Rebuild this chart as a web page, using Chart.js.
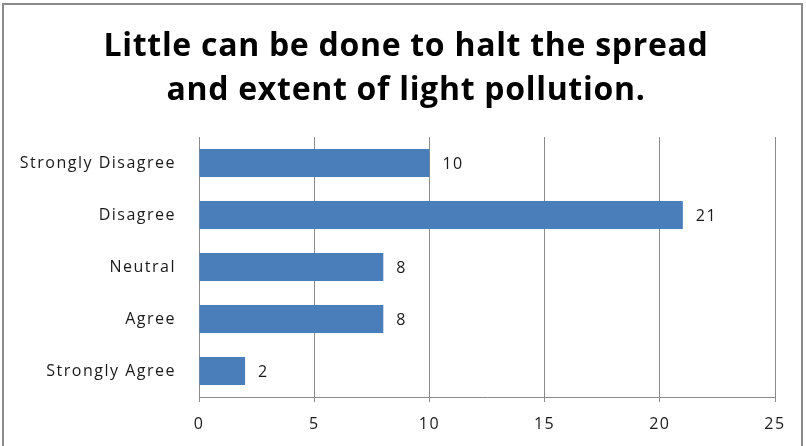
<!DOCTYPE html>
<html>
<head>
<meta charset="utf-8">
<script src="https://cdn.jsdelivr.net/npm/chart.js@4/dist/chart.umd.min.js"></script>
<style>
  html, body { margin: 0; padding: 0; background: #fff; }
  #wrap { width: 806px; height: 446px; }
</style>
</head>
<body>
<div id="wrap"><canvas id="grafico" width="806" height="446"></canvas></div>
<script>
// Respuestas de la encuesta
const categorias = ['Strongly Disagree', 'Disagree', 'Neutral', 'Agree', 'Strongly Agree'];
const respuestas = [10, 21, 8, 8, 2];
const ticksX = [0, 5, 10, 15, 20, 25];
const titulo = ['Little can be done to halt the spread', 'and extent of light pollution.'];

const fuente = '"Open Sans", Lato, sans-serif';

// Texto algo más espaciado en ejes y etiquetas
const espaciado = {
  id: 'espaciado',
  beforeDraw(chart) { chart.ctx.letterSpacing = '1.5px'; },
  afterDraw(chart) { chart.ctx.letterSpacing = '0px'; }
};

// Título en dos líneas y marco gris alrededor del gráfico
const tituloYMarco = {
  id: 'tituloYMarco',
  afterDraw(chart) {
    const ctx = chart.ctx;
    ctx.save();
    ctx.letterSpacing = '0.7px';
    ctx.font = 'bold 32px ' + fuente;
    ctx.fillStyle = '#000';
    ctx.textAlign = 'center';
    ctx.textBaseline = 'alphabetic';
    titulo.forEach((linea, i) => ctx.fillText(linea, 406, 56 + i * 44));
    ctx.strokeStyle = '#8a8a8a';
    ctx.lineWidth = 2;
    ctx.strokeRect(3, 4, 799, 460);
    ctx.restore();
  }
};

// Etiquetas con el valor a la derecha de cada barra
const etiquetas = {
  id: 'etiquetas',
  afterDatasetsDraw(chart) {
    const ctx = chart.ctx;
    const meta = chart.getDatasetMeta(0);
    ctx.save();
    ctx.font = '16px ' + fuente;
    ctx.fillStyle = '#1a1a1a';
    ctx.textBaseline = 'middle';
    ctx.textAlign = 'left';
    meta.data.forEach((bar, i) => {
      ctx.fillText(String(chart.data.datasets[0].data[i]), bar.x + 13, bar.y + 1);
    });
    ctx.restore();
  }
};

const ctx = document.getElementById('grafico').getContext('2d');
new Chart(ctx, {
  type: 'bar',
  data: {
    labels: categorias,
    datasets: [{
      data: respuestas,
      backgroundColor: '#4a7ebb',
      barPercentage: 0.54,
      categoryPercentage: 1
    }]
  },
  options: {
    indexAxis: 'y',
    responsive: false,
    animation: false,
    layout: { padding: { left: 10, right: 31, top: 137, bottom: 0 } },
    plugins: {
      legend: { display: false },
      tooltip: { enabled: false },
      title: { display: false }
    },
    scales: {
      x: {
        min: 0,
        max: 25,
        afterBuildTicks(scale) { scale.ticks = ticksX.map(v => ({ value: v })); },
        afterFit(scale) { scale.height = 49; },
        grid: { color: '#8c8c8c', lineWidth: 1, drawTicks: true, tickLength: 5 },
        border: { color: '#8c8c8c' },
        ticks: { color: '#1a1a1a', padding: 13, font: { family: fuente, size: 16 } }
      },
      y: {
        afterFit(scale) { scale.width = 189; },
        grid: { display: false, drawTicks: false },
        border: { color: '#8c8c8c' },
        ticks: { color: '#1a1a1a', padding: 23, font: { family: fuente, size: 16 } }
      }
    }
  },
  plugins: [espaciado, tituloYMarco, etiquetas]
});
</script>
</body>
</html>
